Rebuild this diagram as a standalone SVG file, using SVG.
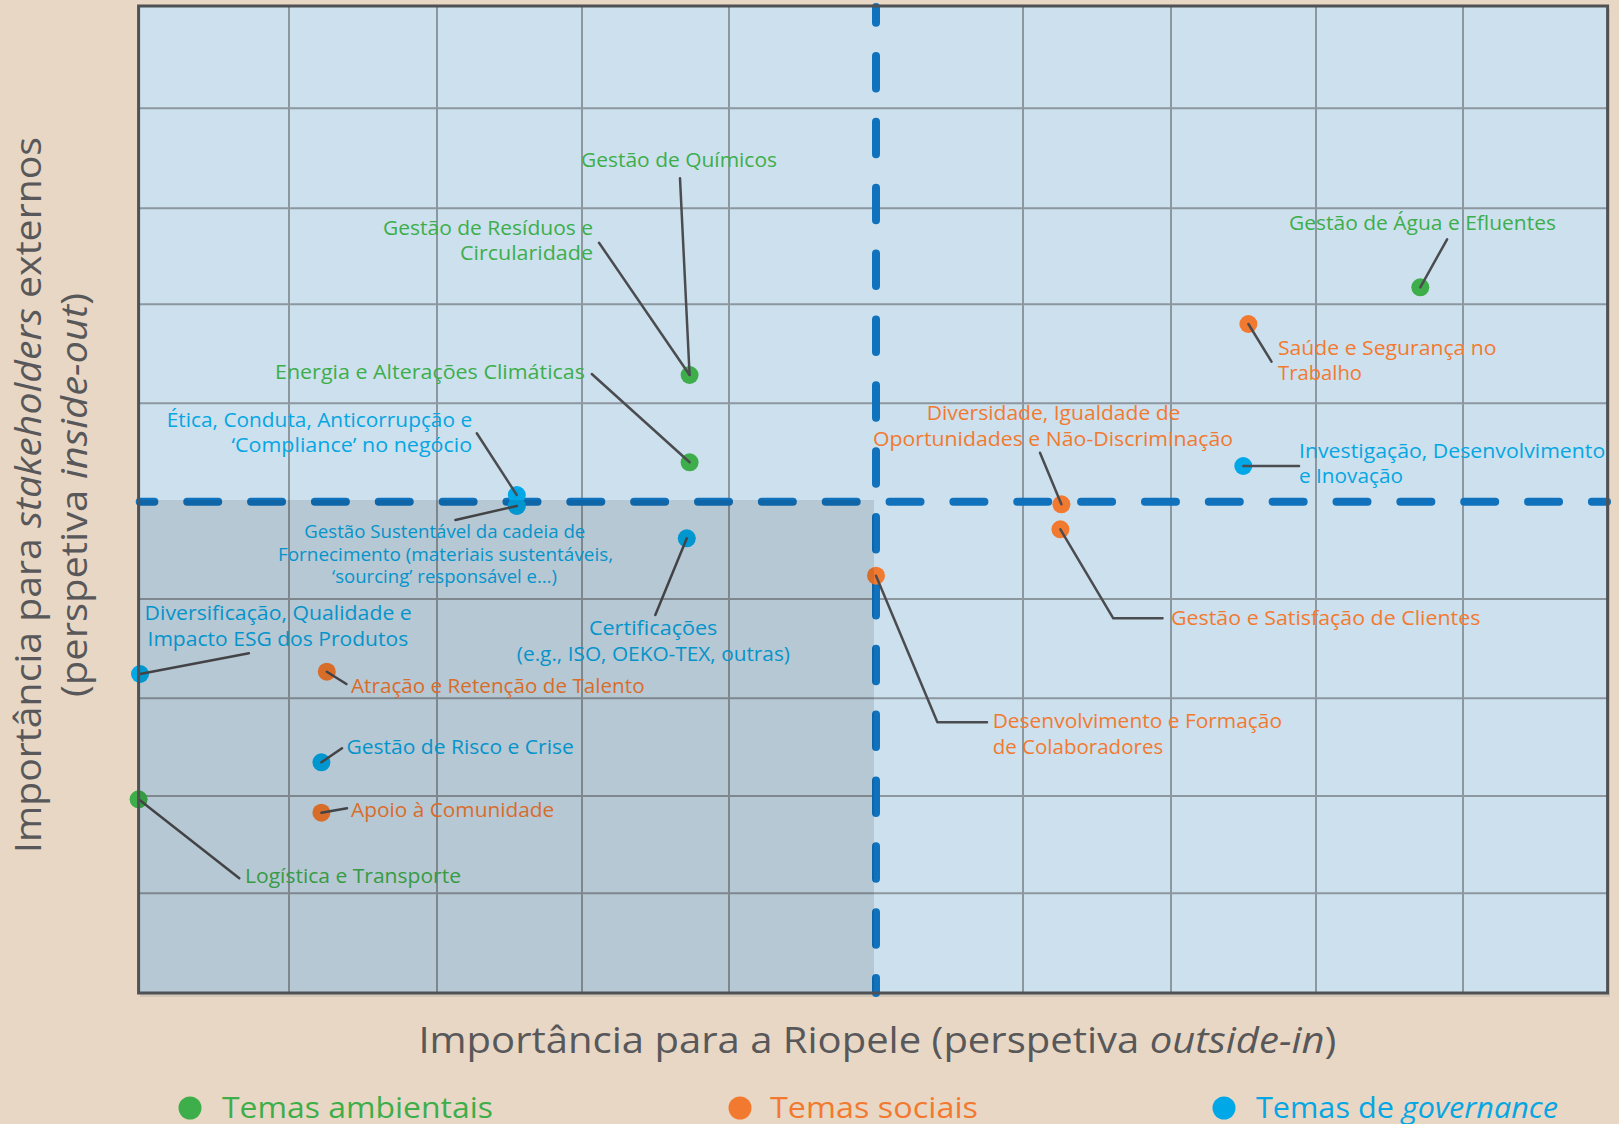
<svg xmlns="http://www.w3.org/2000/svg" width="1619" height="1124" viewBox="0 0 1619 1124">
<style>
text{font-family:"Open Sans","Noto Sans","Liberation Sans",sans-serif;}
.lbl{font-size:20px;}
.sm{font-size:18.5px;}
.g{fill:#3dae4a;}
.o{fill:#f27a30;}
.b{fill:#06a6e2;}
.dg{fill:#3dae4a;}
.do{fill:#f27a30;}
.db{fill:#00a8e8;}
.grid line{stroke:#8d979f;stroke-width:2;}
.lead{fill:none;stroke:#4b4c4f;stroke-width:2.5;stroke-linecap:round;stroke-linejoin:round;}
.dash{stroke:#1072bc;stroke-width:8;stroke-linecap:round;fill:none;}
.axis{font-size:36px;fill:#58585a;}
.leg{font-size:30px;}
</style>
<rect x="0" y="0" width="1619" height="1124" fill="#e8d7c5"/>
<rect x="140" y="9" width="1470" height="988" fill="#d3c7b8"/>
<rect id="plot" x="138.6" y="6" width="1469" height="987" fill="#cce0ee"/>
<g class="grid">
<line x1="289" y1="6" x2="289" y2="993"/>
<line x1="437" y1="6" x2="437" y2="993"/>
<line x1="582" y1="6" x2="582" y2="993"/>
<line x1="729" y1="6" x2="729" y2="993"/>
<line x1="1023" y1="6" x2="1023" y2="993"/>
<line x1="1171" y1="6" x2="1171" y2="993"/>
<line x1="1316" y1="6" x2="1316" y2="993"/>
<line x1="1463" y1="6" x2="1463" y2="993"/>
<line x1="138.6" y1="108.3" x2="1607.6" y2="108.3"/>
<line x1="138.6" y1="208.3" x2="1607.6" y2="208.3"/>
<line x1="138.6" y1="304.3" x2="1607.6" y2="304.3"/>
<line x1="138.6" y1="403.3" x2="1607.6" y2="403.3"/>
<line x1="138.6" y1="599" x2="1607.6" y2="599"/>
<line x1="138.6" y1="698.3" x2="1607.6" y2="698.3"/>
<line x1="138.6" y1="796" x2="1607.6" y2="796"/>
<line x1="138.6" y1="893.3" x2="1607.6" y2="893.3"/>
</g>
<g id="thresholds">
<line class="dash" x1="139.7" y1="501.7" x2="1607" y2="501.7" stroke-dasharray="31 32.85" stroke-dashoffset="16.35"/>
<line class="dash" x1="876" y1="7" x2="876" y2="993" stroke-dasharray="32.5 33.36" stroke-dashoffset="16.86"/>
</g>
<g id="nodes">
<g id="quimicos-residuos"><circle class="dg" cx="689.6" cy="375" r="9"/>
<text class="lbl g" x="581" y="166.5" textLength="196" lengthAdjust="spacingAndGlyphs">Gestão de Químicos</text>
<text class="lbl g" x="383" y="235" textLength="210" lengthAdjust="spacingAndGlyphs">Gestão de Resíduos e</text>
<text class="lbl g" x="460" y="260" textLength="133" lengthAdjust="spacingAndGlyphs">Circularidade</text></g>
<g id="energia"><circle class="dg" cx="689.6" cy="462.3" r="9"/>
<text class="lbl g" x="275" y="379" textLength="310" lengthAdjust="spacingAndGlyphs">Energia e Alterações Climáticas</text></g>
<g id="agua"><circle class="dg" cx="1420.3" cy="287.3" r="9"/>
<text class="lbl g" x="1289" y="230" textLength="267" lengthAdjust="spacingAndGlyphs">Gestão de Água e Efluentes</text></g>
<g id="logistica"><circle class="dg" cx="138.6" cy="799.3" r="9"/>
<text class="lbl g" x="245" y="883.3" textLength="216" lengthAdjust="spacingAndGlyphs">Logística e Transporte</text></g>
<g id="saude"><circle class="do" cx="1248.4" cy="324" r="9"/>
<text class="lbl o" x="1278" y="355" textLength="218.6" lengthAdjust="spacingAndGlyphs">Saúde e Segurança no</text>
<text class="lbl o" x="1278" y="380" textLength="84" lengthAdjust="spacingAndGlyphs">Trabalho</text></g>
<g id="diversidade"><circle class="do" cx="1061.4" cy="504.3" r="9"/>
<text class="lbl o" x="926.7" y="420" textLength="253.7" lengthAdjust="spacingAndGlyphs">Diversidade, Igualdade de</text>
<text class="lbl o" x="873" y="445.7" textLength="360" lengthAdjust="spacingAndGlyphs">Oportunidades e Não-Discriminação</text></g>
<g id="clientes"><circle class="do" cx="1060.4" cy="529.3" r="9"/>
<text class="lbl o" x="1171" y="625" textLength="309.4" lengthAdjust="spacingAndGlyphs">Gestão e Satisfação de Clientes</text></g>
<g id="desenvolvimento"><circle class="do" cx="876" cy="575.7" r="9"/>
<text class="lbl o" x="992.7" y="728.3" textLength="289.4" lengthAdjust="spacingAndGlyphs">Desenvolvimento e Formação</text>
<text class="lbl o" x="992.7" y="754" textLength="170.5" lengthAdjust="spacingAndGlyphs">de Colaboradores</text></g>
<g id="atracao"><circle class="do" cx="326.8" cy="671.7" r="9"/>
<text class="lbl o" x="351" y="693.3" textLength="293.6" lengthAdjust="spacingAndGlyphs">Atração e Retenção de Talento</text></g>
<g id="apoio"><circle class="do" cx="321.4" cy="812.7" r="9"/>
<text class="lbl o" x="351" y="817.3" textLength="203.3" lengthAdjust="spacingAndGlyphs">Apoio à Comunidade</text></g>
<g id="etica"><circle class="db" cx="516.8" cy="495" r="9"/>
<text class="lbl b" x="166.8" y="426.5" textLength="305.3" lengthAdjust="spacingAndGlyphs">Ética, Conduta, Anticorrupção e</text>
<text class="lbl b" x="231.4" y="451.7" textLength="240.7" lengthAdjust="spacingAndGlyphs">‘Compliance’ no negócio</text></g>
<g id="sustentavel"><circle class="db" cx="516.8" cy="506" r="9"/>
<text class="sm b" x="304.3" y="538.3" textLength="281" lengthAdjust="spacingAndGlyphs">Gestão Sustentável da cadeia de</text>
<text class="sm b" x="277.9" y="560.8" textLength="335.3" lengthAdjust="spacingAndGlyphs">Fornecimento (materiais sustentáveis,</text>
<text class="sm b" x="332" y="583" textLength="225" lengthAdjust="spacingAndGlyphs">‘sourcing’ responsável e…)</text></g>
<g id="certificacoes"><circle class="db" cx="686.8" cy="538.3" r="9"/>
<text class="lbl b" x="588.9" y="635" textLength="128.5" lengthAdjust="spacingAndGlyphs">Certificações</text>
<text class="lbl b" x="516.8" y="661" textLength="273.2" lengthAdjust="spacingAndGlyphs">(e.g., ISO, OEKO-TEX, outras)</text></g>
<g id="investigacao"><circle class="db" cx="1243.3" cy="466" r="9"/>
<text class="lbl b" x="1299" y="458.3" textLength="306.2" lengthAdjust="spacingAndGlyphs">Investigação, Desenvolvimento</text>
<text class="lbl b" x="1299" y="483.3" textLength="104" lengthAdjust="spacingAndGlyphs">e Inovação</text></g>
<g id="diversificacao"><circle class="db" cx="140" cy="674" r="9"/>
<text class="lbl b" x="144.6" y="620" textLength="267.2" lengthAdjust="spacingAndGlyphs">Diversificação, Qualidade e</text>
<text class="lbl b" x="147.5" y="645.7" textLength="260.7" lengthAdjust="spacingAndGlyphs">Impacto ESG dos Produtos</text></g>
<g id="risco"><circle class="db" cx="321.4" cy="762.3" r="9"/>
<text class="lbl b" x="346.4" y="754" textLength="227.5" lengthAdjust="spacingAndGlyphs">Gestão de Risco e Crise</text></g>
</g>
<g id="connectors" class="lead">
<polyline points="680,178.3 689.6,375"/>
<polyline points="599,242.7 689.6,375"/>
<polyline points="591.8,374 689.6,462.3"/>
<polyline points="476.8,433.3 516.8,495"/>
<polyline points="455.4,520 516.8,506"/>
<polyline points="655.3,615 686.8,538.3"/>
<polyline points="248.9,653.3 140,674"/>
<polyline points="346.4,684 326.8,671.7"/>
<polyline points="342,748.3 321.4,762.3"/>
<polyline points="347,808.3 321.4,812.7"/>
<polyline points="239.3,878.3 138.6,799.3"/>
<polyline points="987,722.3 937.4,722.3 876,575.7"/>
<polyline points="1040,452.7 1061.4,504.3"/>
<polyline points="1162.5,618.3 1113.3,618.3 1060.4,529.3"/>
<polyline points="1447.1,239.3 1420.3,287.3"/>
<polyline points="1271.5,361.7 1248.4,324"/>
<polyline points="1299,466 1243.3,466"/>
</g>
<rect id="low-priority-zone" x="138.6" y="500" width="735.4" height="493" fill="#000" fill-opacity="0.105"/>
<rect x="138.6" y="6" width="1469" height="987" fill="none" stroke="#4f5154" stroke-width="3"/>
<g id="axes">
<text class="axis" transform="translate(41,495) rotate(-90)" text-anchor="middle" textLength="716" lengthAdjust="spacingAndGlyphs">Importância para <tspan font-style="italic">stakeholders</tspan> externos</text>
<text class="axis" transform="translate(87,495) rotate(-90)" text-anchor="middle" textLength="404" lengthAdjust="spacingAndGlyphs">(perspetiva <tspan font-style="italic">inside-out</tspan>)</text>
<text class="axis" x="418.4" y="1052.7" textLength="918" lengthAdjust="spacingAndGlyphs">Importância para a Riopele (perspetiva <tspan font-style="italic">outside-in</tspan>)</text>
</g>
<g id="legend">
<circle class="dg" cx="190" cy="1108" r="11.5"/>
<text class="leg g" x="222" y="1118" textLength="271" lengthAdjust="spacingAndGlyphs">Temas ambientais</text>
<circle class="do" cx="740" cy="1108" r="11.5"/>
<text class="leg o" x="770" y="1118" textLength="208" lengthAdjust="spacingAndGlyphs">Temas sociais</text>
<circle class="db" cx="1224" cy="1108" r="11.5"/>
<text class="leg b" x="1256" y="1118" textLength="302" lengthAdjust="spacingAndGlyphs">Temas de <tspan font-style="italic">governance</tspan></text>
</g>
</svg>
